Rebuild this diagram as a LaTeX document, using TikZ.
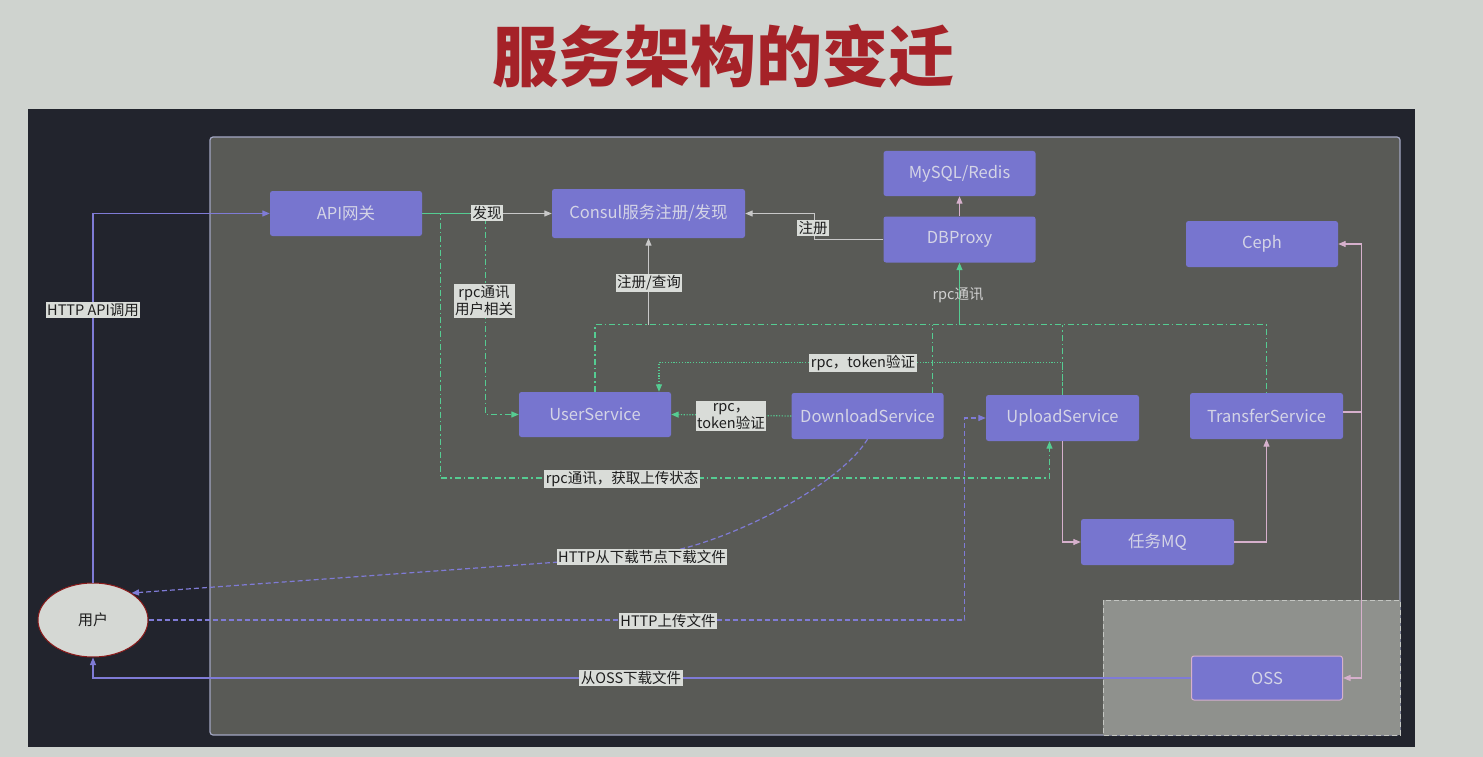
\documentclass[tikz,border=0pt]{standalone}
\usepackage{fontspec}
\setmainfont{Noto Sans CJK SC}
\usetikzlibrary{arrows.meta,shapes.geometric,calc}
\definecolor{bgc}{HTML}{CFD3CF}
\definecolor{darkc}{HTML}{22242D}
\definecolor{panelc}{HTML}{595A56}
\definecolor{panelb}{HTML}{A2A6C2}
\definecolor{ossc}{HTML}{8F918D}
\definecolor{ossb}{HTML}{C4C6C2}
\definecolor{boxc}{HTML}{7775CF}
\definecolor{boxtxt}{HTML}{D4D4E6}
\definecolor{userfill}{HTML}{D5D8D4}
\definecolor{userb}{HTML}{8B1A1A}
\definecolor{lblbg}{HTML}{D9DCD8}
\definecolor{lbltxt}{HTML}{1E1E1E}
\definecolor{purc}{HTML}{7F7BD6}
\definecolor{grylc}{HTML}{C8C8C8}
\definecolor{grnc}{HTML}{55CC92}
\definecolor{pnkc}{HTML}{D6B0CC}
\definecolor{titlec}{HTML}{A52228}
\definecolor{txtl}{HTML}{D0D0D0}
\tikzset{
  box/.style={fill=boxc, rounded corners=2.5pt, minimum width=152pt, minimum height=45pt,
    text=boxtxt, font=\fontsize{16.5}{18}\selectfont, inner sep=0pt},
  lbl/.style={fill=lblbg, text=lbltxt, font=\fontsize{14.5}{17}\selectfont, inner sep=1.5pt, align=center},
  tip/.style={-{Triangle[length=7.5pt,width=6pt]}},
  purp/.style={draw=purc, line width=1.2pt},
  gryl/.style={draw=grylc, line width=1.2pt},
  pnk/.style={draw=pnkc, line width=1.2pt},
  grn/.style={draw=grnc, line width=1.2pt},
  dd/.style={dash pattern=on 6pt off 3pt on 1.5pt off 3pt},
  dots/.style={dash pattern=on 1.2pt off 1.6pt},
  dsh/.style={dash pattern=on 5pt off 3pt},
}
\begin{document}
\begin{tikzpicture}[x=1pt,y=-1pt]
\fill[bgc] (0,0) rectangle (1483,757);
\useasboundingbox (0,0) rectangle (1483,757);
% title
\node[font=\fontsize{66}{72}\selectfont\bfseries, text=titlec] (title) at (723,56) {服务架构的变迁};
% panels
\fill[darkc] (28,109) rectangle (1415,747);
\draw[draw=panelb, line width=1.2pt, fill=panelc, rounded corners=3pt] (210,137) rectangle (1400,735);
\draw[draw=ossb, line width=1pt, dsh, fill=ossc] (1103,600) rectangle (1400,735);

% nodes
\node[box] (api) at (346,213.5) {API网关};
\node[box, minimum width=193pt, minimum height=49pt] (consul) at (648.5,213.5) {Consul服务注册/发现};
\node[box] (db) at (959.5,173.5) {MySQL/Redis};
\node[box, minimum height=46pt] (dbp) at (959.5,239.5) {DBProxy};
\node[box, minimum height=46pt] (ceph) at (1262,244) {Ceph};
\node[box] (usr) at (595,414.5) {UserService};
\node[box, minimum height=46pt] (dls) at (867.5,416) {DownloadService};
\node[box, minimum width=153pt, minimum height=46pt] (upl) at (1062.5,418) {UploadService};
\node[box, minimum width=153pt, minimum height=46pt] (trf) at (1266.5,416) {TransferService};
\node[box, minimum width=153pt, minimum height=46pt] (mq) at (1157.5,542) {任务MQ};
\node[box, draw=pnkc, line width=1pt, minimum width=151pt, minimum height=44pt] (oss) at (1267,678) {OSS};
\node[ellipse, fill=userfill, draw=userb, line width=1pt, minimum width=110pt, minimum height=74pt,
  text=lbltxt, font=\fontsize{15}{17}\selectfont] (user) at (93,620) {用户};

% coordinates on the service bus
\coordinate (busC) at (648.5,325);
\coordinate (busD) at (959.5,325);
\coordinate (dlmid) at (642,556);

% connectors
\draw[purp,tip] (user.north) |- (api.west);
\draw[gryl,tip] (api.east) -- (consul.west);
\draw[grn] (api.east) -- ++(48,0);
\draw[grn,dd,tip] (api.east) -- ++(63,0) |- (usr.west);
\draw[grn,dd,tip] (api.east) -- ++(18,0) -- ++(0,264.5) -| ([xshift=-13pt]upl.south);
\draw[gryl,tip] (dbp.west) -- ++(-69,0) |- (consul.east);
\draw[pnk,tip] (dbp.north) -- (db.south);
% bus
\draw[grn,dd] (usr.north) -- ++(0,-67) -| (trf.north);
\draw[grn,dd] ([xshift=65pt]dls.north) -- ++(0,-68);
\draw[grn,dd] (upl.north) -- ++(0,-70);
\draw[gryl,tip] (busC) -- (consul.south);
\draw[grn,tip] (busD) -- (dbp.south);
% token verification
\draw[grn,dots,tip] (upl.north) -- ++(0,-32) -| ([xshift=64pt]usr.north);
\draw[grn,dots,tip] (dls.west) -- (usr.east);
% task queue
\draw[pnk,tip] (upl.south) |- (mq.west);
\draw[pnk,tip] (mq.east) -| (trf.south);
\draw[pnk,tip] ([yshift=4pt]trf.east) -- ++(18,0) |- (ceph.east);
\draw[pnk,tip] ([yshift=4pt]trf.east) -- ++(18,0) |- (oss.east);
% user flows
\draw[purp,tip] (oss.west) -| (user.south);
\draw[purp,dsh,tip] (user.east) -- ++(816,0) |- (upl.west);
\draw[purp,dsh,tip] (dls.south) .. controls (840,485) and (722,549) .. (dlmid) -- (user.35);

% labels
\node[lbl] at (93,310) {HTTP API调用};
\node[lbl] at (487,213) {发现};
\node[lbl] at (484,301) {rpc通讯\\用户相关};
\node[lbl] at (813,228) {注册};
\node[lbl] at (649,283) {注册/查询};
\node[text=txtl, font=\fontsize{14.5}{17}\selectfont] at (958,295) {rpc通讯};
\node[lbl] at (863,363) {rpc，token验证};
\node[lbl] at (731,416) {rpc，\\token验证};
\node[lbl] at (622,479) {rpc通讯，获取上传状态};
\node[lbl] at (642,557) {HTTP从下载节点下载文件};
\node[lbl] at (668,621) {HTTP上传文件};
\node[lbl] at (631,678) {从OSS下载文件};
\end{tikzpicture}
\end{document}
